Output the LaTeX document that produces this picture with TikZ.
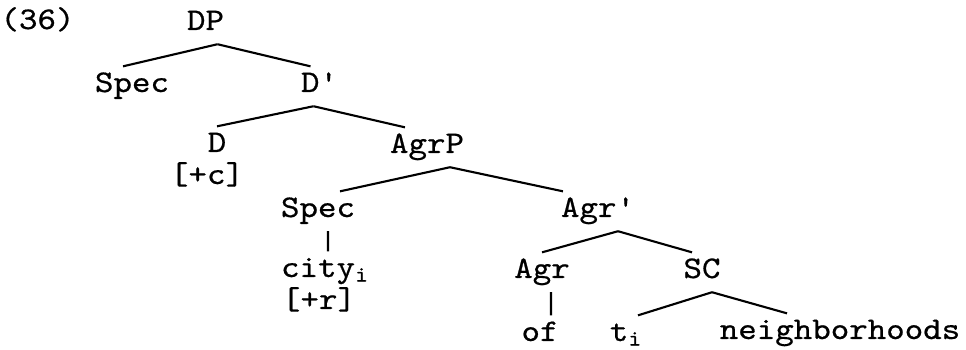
\documentclass[tikz,border=0pt]{standalone}
\usepackage{fontspec}
\setmonofont{lmmono10-regular.otf}[FakeStretch=1.12,FakeBold=0.6]
\begin{document}
\begin{tikzpicture}[x=0.02cm,y=-0.02cm,line width=1.2pt,
    every node/.style={font=\ttfamily\fontsize{17.9}{20}\selectfont,anchor=base,
      inner xsep=0pt,inner ysep=3.5pt,text height=10.5pt,text depth=4pt}]
    \useasboundingbox (0,0) rectangle (966,350);

    \node (Ex) at (37.5,29) {(36)};

    \node (DP) at (205.5,30) {DP};
    \node (SpecA) at (132,92) {Spec};
    \node (Dbar) at (318.5,92) {D\textquotesingle};

    \draw[-] ([xshift=0.24cm]DP.south) -- ([xshift=-0.18cm]SpecA.north);
    \draw[-] ([xshift=0.24cm]DP.south) -- ([xshift=-0.16cm]Dbar.north);

    \node (D) at (217,152) {D};
    \node (Dc) at (207,184) {[+c]};
    \node (AgrP) at (427,153) {AgrP};

    \draw[-] ([xshift=-0.1cm]Dbar.south) -- (D.north);
    \draw[-] ([xshift=-0.1cm]Dbar.south) -- ([xshift=-0.44cm]AgrP.north);

    \node (SpecB) at (318,217) {Spec};
    \node (Agrbar) at (597,217) {Agr\textquotesingle};

    \draw[-] ([xshift=0.46cm]AgrP.south) -- ([xshift=0.44cm]SpecB.north);
    \draw[-] ([xshift=0.46cm]AgrP.south) -- ([xshift=-0.68cm]Agrbar.north);

    \node (city) at (325,277) {city\textsubscript{i}};
    \node (cityr) at (319,309) {[+r]};
    \draw[-] ([xshift=0.2cm]SpecB.south) -- ([xshift=0.06cm]city.north);

    \node (Agr) at (542,278) {Agr};
    \node (SC) at (702,278) {SC};

    \draw[-] ([xshift=0.42cm]Agrbar.south) -- (Agr.north);
    \draw[-] ([xshift=0.42cm]Agrbar.south) -- ([xshift=-0.2cm]SC.north);

    \node (of) at (540,341) {of};
    \node (ti) at (626,341) {t\textsubscript{i}};
    \node (nbh) at (840,339) {neighborhoods};

    \draw[-] ([xshift=0.18cm]Agr.south) -- ([xshift=0.22cm]of.north);
    \draw[-] ([xshift=0.2cm]SC.south) -- ([xshift=0.24cm]ti.north);
    \draw[-] ([xshift=0.2cm]SC.south) -- ([xshift=-1.06cm]nbh.north);

\end{tikzpicture}
\end{document}
